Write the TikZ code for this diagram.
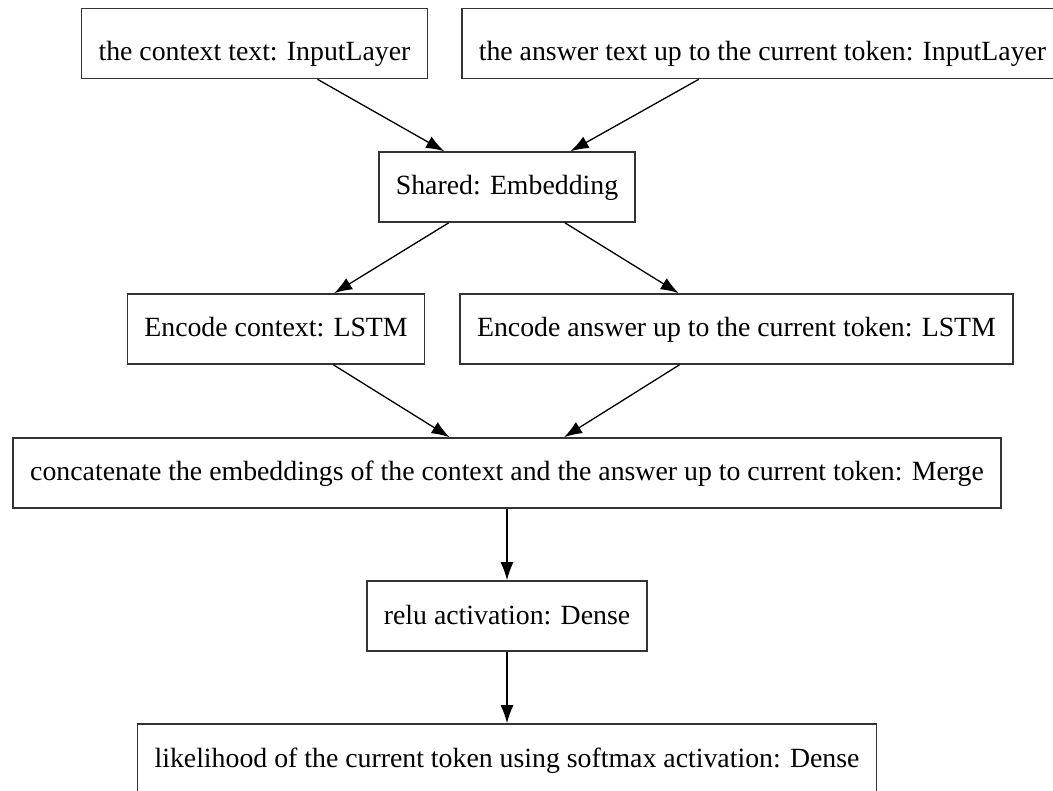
\documentclass[tikz,border=0pt]{standalone}
\usepackage{fontspec}
\setmainfont{Liberation Serif}
\usepackage{tikz}
\usetikzlibrary{arrows.meta,positioning}

\begin{document}
\begin{tikzpicture}[
    x = 1pt, y = 1pt,
    on grid,
    node distance = 143pt
  ]
  \tikzstyle{layer} = [
    draw = black!80, rectangle,
    line width     = 1.6pt,
    text centered,
    align          = center,
    inner xsep     = 17pt,
    text height    = 22pt,
    text depth     = 6pt,
    minimum height = 70pt,
    font           = \fontsize{27.8pt}{33pt}\selectfont
  ]
  \tikzstyle{input}  = [layer, text height = 40pt]
  \tikzstyle{arrow}  = [draw, line width = 1.3pt, -{Latex[length=18pt, width=13pt]}]

  % page frame, box on the right and box at the bottom run over it
  \useasboundingbox (0,0) rectangle (1053,-791);
  \clip (0,0) rectangle (1053,-791);
  \fill [white] (0,0) rectangle (1053,-791);

  \node [input]              at (254.5,-43.5) (ctxinput) {the context text: InputLayer};
  \node [input, anchor=west] at (461,-43.5)   (ansinput) {the answer text up to the current token: InputLayer};
  \node [layer]              at (507,-187)    (shared)   {Shared: Embedding};
  \node [layer]              at (276,-329)    (ctxlstm)  {Encode context: LSTM};
  \node [layer]              at (736.5,-329)  (anslstm)  {Encode answer up to the current token: LSTM};
  \node [layer]              at (507,-473)    (merge)    {concatenate the embeddings of the context and the answer up to current token: Merge};
  \node [layer, below of = merge]             (relu)     {relu activation: Dense};
  \node [layer, below of = relu]              (softmax)  {likelihood of the current token using softmax activation: Dense};

  \path [arrow] (ctxinput) -- (shared);
  \path [arrow] (ansinput) -- (shared);
  \path [arrow] (shared)   -- (ctxlstm);
  \path [arrow] (shared)   -- (anslstm);
  \path [arrow] (ctxlstm)  -- (merge);
  \path [arrow] (anslstm)  -- (merge);
  \path [arrow] (merge)    -- (relu);
  \path [arrow] (relu)     -- (softmax);
\end{tikzpicture}
\end{document}
